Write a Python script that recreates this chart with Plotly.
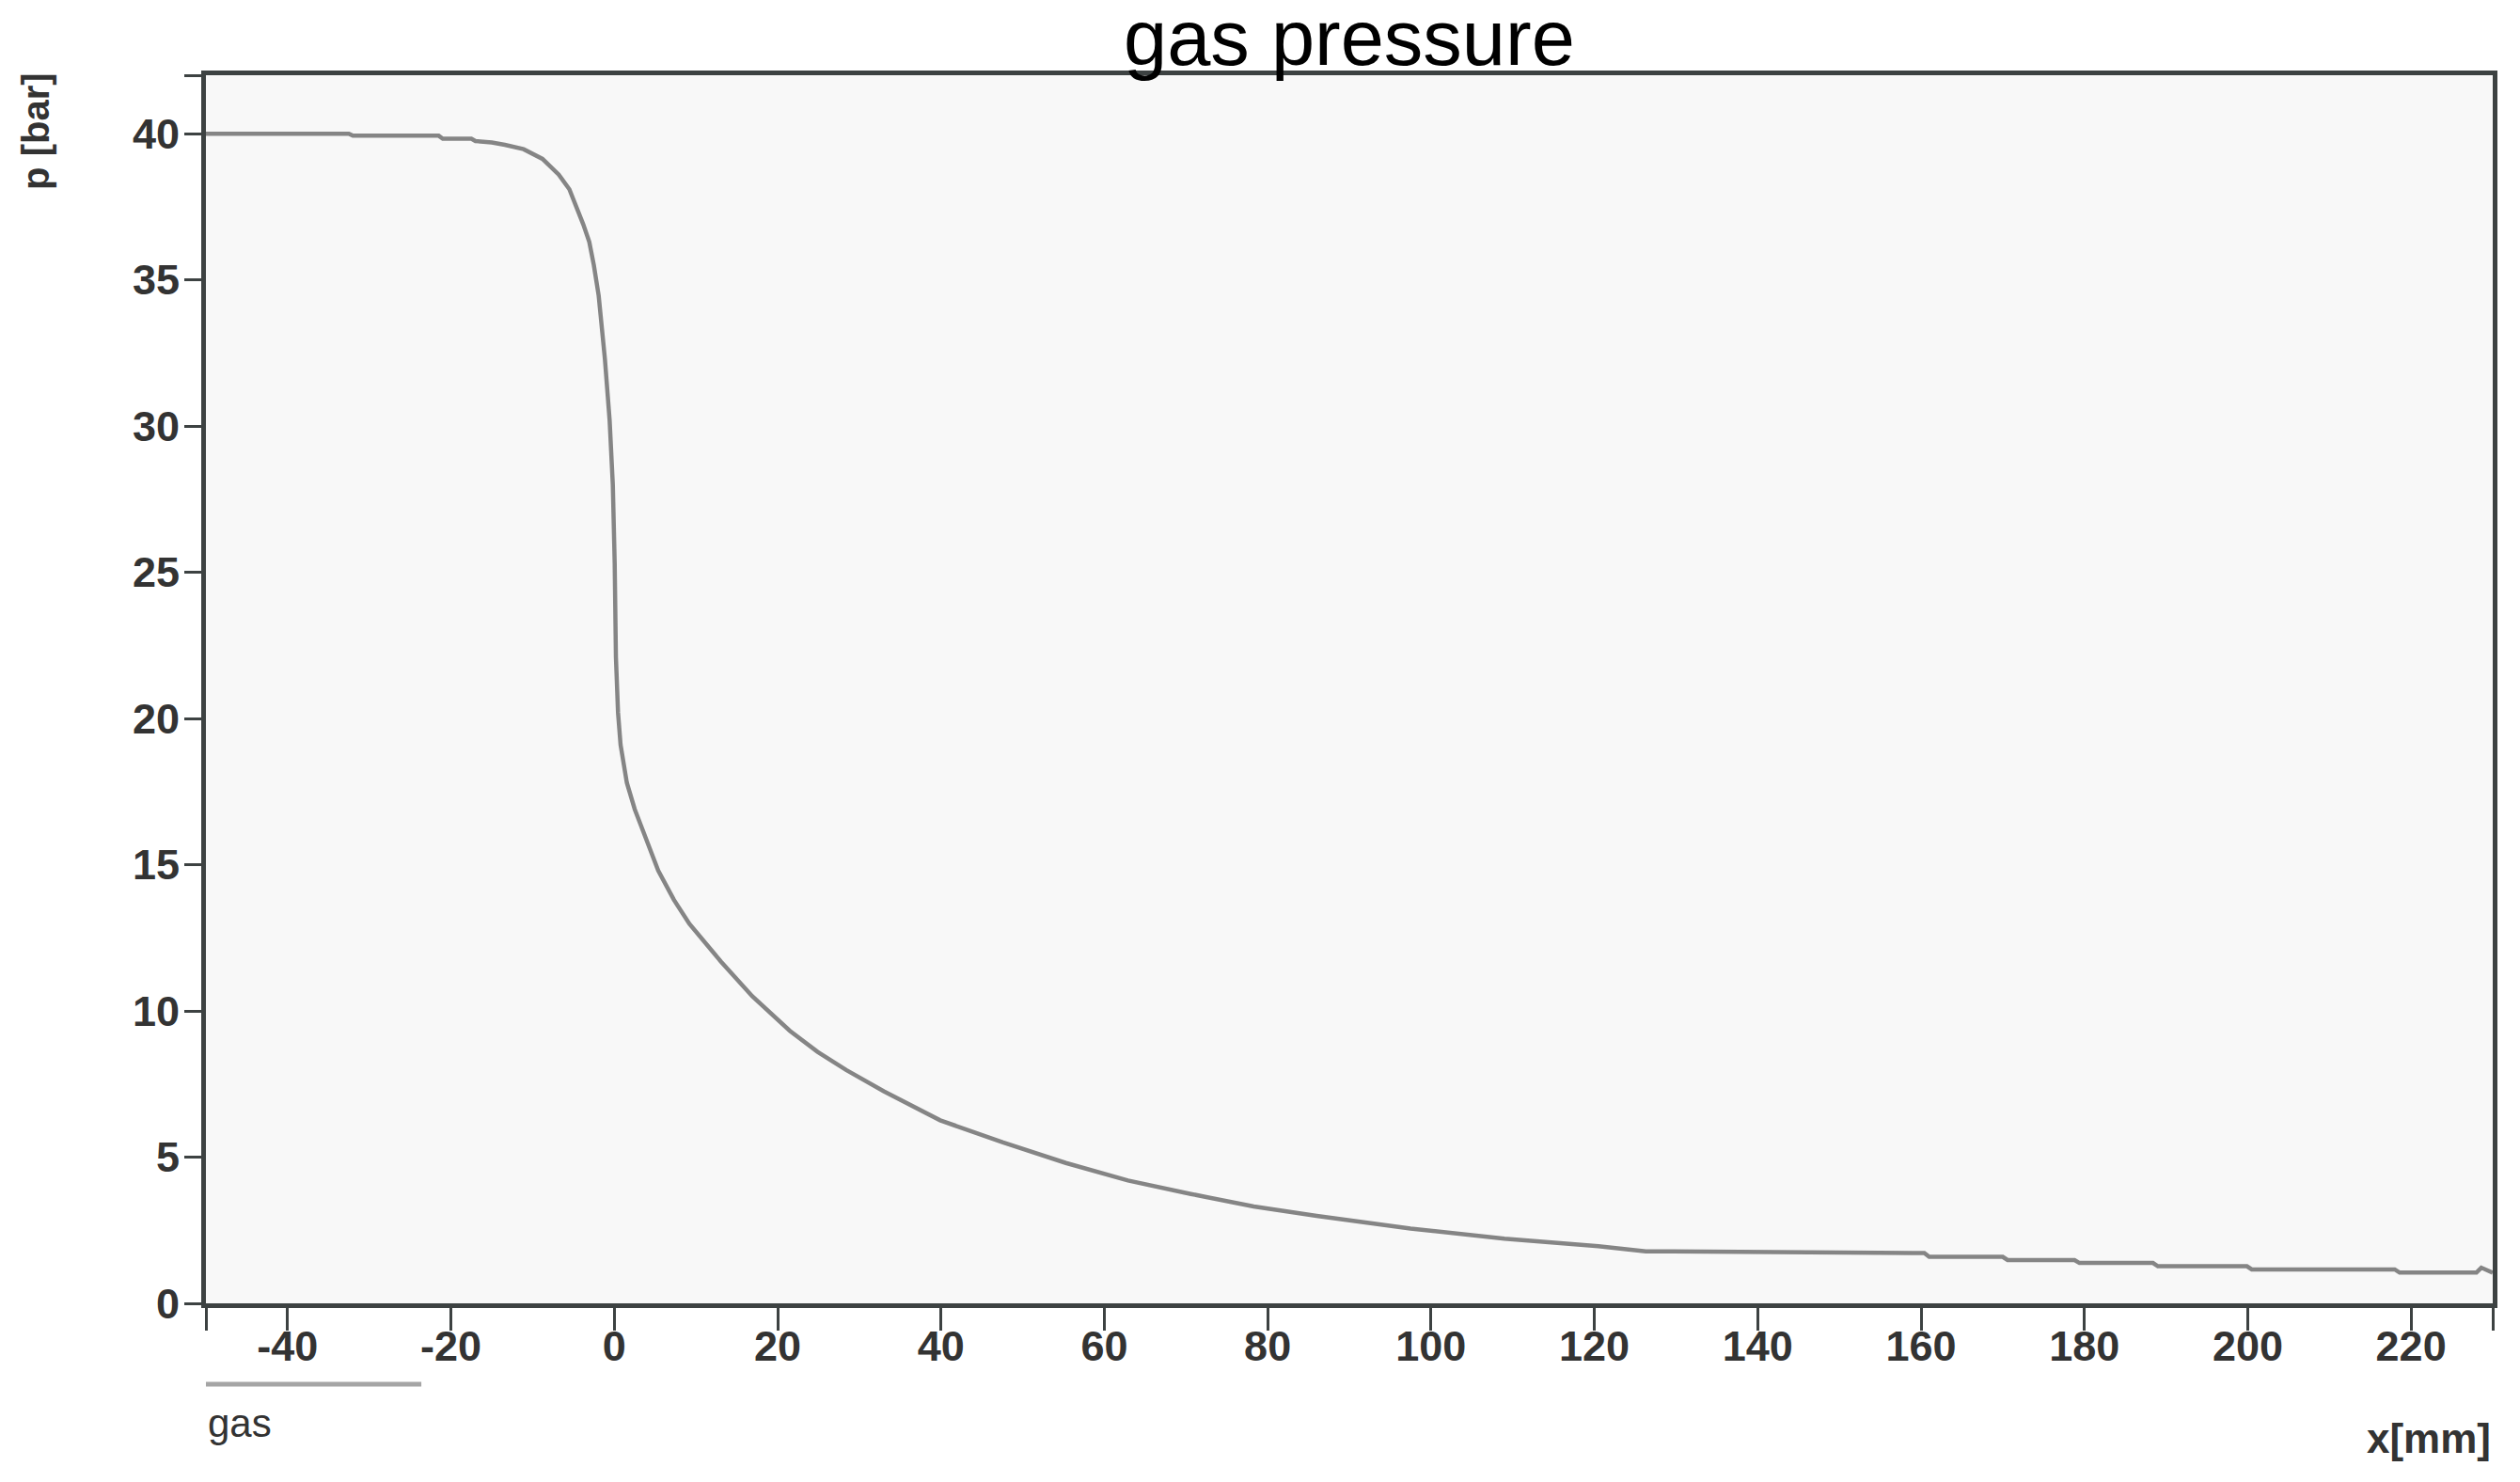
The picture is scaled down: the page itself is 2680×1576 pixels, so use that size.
import plotly.graph_objects as go

# ---- data ----
x_mm = [-50, -32.5, -32.0, -21.5, -21.0, -17.5, -17.0, -15.0, -13.4, -11.1, -8.8, -6.8,
        -5.5, -4.6, -3.8, -3.06, -2.5, -1.91, -1.5, -1.15, -0.57, -0.18, 0.05, 0.2,
        0.46, 0.77, 1.54, 2.5, 3.46, 5.38, 7.3, 9.2, 13.05, 16.9, 21.5, 24.9, 28.4,
        33.0, 39.9, 47.6, 55.3, 62.9, 70.6, 78.3, 86.0, 97.5, 109.0, 120.5, 126.3,
        160.4, 161.0, 170.0, 170.6, 178.8, 179.4, 188.4, 189.0, 199.9, 200.5, 218.0,
        218.6, 228.0, 228.6, 230.0]
p_bar = [40.0, 40.0, 39.93, 39.93, 39.83, 39.83, 39.75, 39.70, 39.62, 39.47, 39.14, 38.6,
         38.1, 37.5, 36.9, 36.3, 35.5, 34.46, 33.4, 32.3, 30.2, 28.0, 25.3, 22.1,
         20.2, 19.1, 17.8, 16.9, 16.2, 14.8, 13.8, 12.98, 11.69, 10.5, 9.32, 8.6, 7.98,
         7.25, 6.26, 5.5, 4.8, 4.2, 3.74, 3.31, 2.99, 2.56, 2.21, 1.95, 1.78,
         1.72, 1.59, 1.59, 1.48, 1.48, 1.38, 1.38, 1.27, 1.27, 1.16, 1.16,
         1.05, 1.05, 1.22, 1.05]

x_tickvals = [-50, -40, -20, 0, 20, 40, 60, 80, 100, 120, 140, 160, 180, 200, 220, 230]
x_ticktext = ["", "-40", "-20", "0", "20", "40", "60", "80", "100", "120", "140", "160",
              "180", "200", "220", ""]
y_tickvals = [0, 5, 10, 15, 20, 25, 30, 35, 40, 42]
y_ticktext = ["0", "5", "10", "15", "20", "25", "30", "35", "40", ""]

title_text = "gas pressure"
x_title = "x[mm]"
y_title = "p [bar]"
series_name = "gas"

FONT = "Liberation Sans, Arial, Helvetica, sans-serif"
AXIS_COLOR = "#3d4242"
LINE_COLOR = "#858585"

fig = go.Figure()
fig.add_trace(go.Scatter(x=x_mm, y=p_bar, mode="lines", name=series_name,
                         line=dict(color=LINE_COLOR, width=4.5), showlegend=False))

axis_common = dict(showline=True, linecolor=AXIS_COLOR, linewidth=5, mirror=True,
                   showgrid=False, zeroline=False, ticks="outside", tickcolor=AXIS_COLOR,
                   tickwidth=3, tickfont=dict(family=FONT, size=45, color="#333333",
                                              weight="bold"))

fig.update_xaxes(range=[-50, 230], tickmode="array", tickvals=x_tickvals,
                 ticktext=x_ticktext, ticklen=24, ticklabelstandoff=-22, **axis_common)
fig.update_yaxes(range=[0, 42], tickmode="array", tickvals=y_tickvals,
                 ticktext=y_ticktext, ticklen=18, ticklabelstandoff=-4, **axis_common)

# page body has an 8px margin: size the figure so it fits the 2680x1576 window
fig.update_layout(
    width=2664, height=1560,
    margin=dict(l=211, r=21, t=72, b=182, pad=0),
    paper_bgcolor="white", plot_bgcolor="#f8f8f8",
    font=dict(family=FONT),
    annotations=[
        dict(text=title_text, xref="paper", yref="paper", x=0.5, y=1,
             xanchor="center", yanchor="bottom", yshift=-9, showarrow=False,
             font=dict(family=FONT, size=83, color="black")),
        dict(text=y_title, xref="paper", yref="paper", x=-0.0745, y=0.954,
             xanchor="center", yanchor="middle", textangle=-90, showarrow=False,
             font=dict(family=FONT, size=40, color="#333333", weight="bold")),
        dict(text=x_title, xref="paper", yref="paper", x=1.0, y=-0.1095,
             xanchor="right", yanchor="middle", showarrow=False,
             font=dict(family=FONT, size=44, color="#333333", weight="bold")),
        dict(text=series_name, xref="paper", yref="paper", x=0.0, y=-0.098,
             xanchor="left", yanchor="middle", showarrow=False,
             font=dict(family=FONT, size=42, color="#333333")),
    ],
    shapes=[
        dict(type="line", xref="paper", yref="paper", x0=0.0, x1=0.0942,
             y0=-0.0659, y1=-0.0659, line=dict(color="#a5a5a5", width=5)),
    ],
)

fig.write_html("out.html")
